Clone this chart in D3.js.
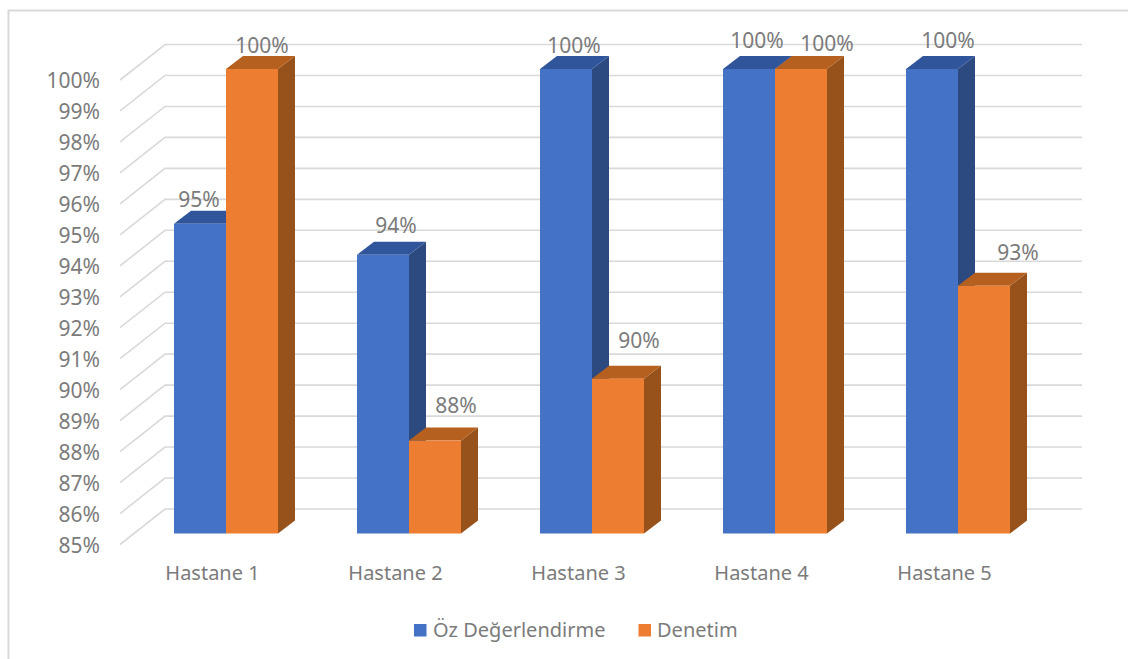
<!DOCTYPE html>
<html lang="tr">
<head>
<meta charset="utf-8">
<script src="https://cdn.jsdelivr.net/npm/d3@7/dist/d3.min.js"></script>
<style>
  html, body { margin: 0; padding: 0; background: #fff; }
  svg { display: block; }
  text { font-family: "Noto Sans", "Open Sans", sans-serif; fill: #7b7b7b; }
</style>
</head>
<body>
<script>
// Chart values
const hospitals = ["Hastane 1", "Hastane 2", "Hastane 3", "Hastane 4", "Hastane 5"];
const selfAssessment = [95, 94, 100, 100, 100];
const audit = [100, 88, 90, 100, 93];
const seriesNames = ["Öz Değerlendirme", "Denetim"];
const percentTicks = d3.range(85, 101);

// Data label nudges from the default spot above each bar: [dx, dy]
const selfLabelNudge = [[-1, -25], [13, -30], [8, -24], [8, -29], [16, -29]];
const auditLabelNudge = [[10, -24], [21, -36], [21, -39], [26, -26], [34, -34]];

const width = 1128, height = 659;
const svg = d3.select("body").append("svg").attr("width", width).attr("height", height);

// Front plane of the bars
const y = d3.scaleLinear().domain([85, 100]).range([533.5, 69]);
const x = d3.scaleBand().domain(hospitals).range([134.5, 1049.5]).paddingInner(0.4317).paddingOuter(0.2158);
const xSeries = d3.scaleBand().domain(seriesNames).range([0, x.bandwidth()]);

// Projection offsets of the 3D box
const barDepth = { dx: 17, dy: -13 };
const wallBack = { left: 165, right: 1082, offset: -24.5 };
const wallFront = { left: 120, offset: 11 };

const palette = {
  [seriesNames[0]]: { front: "#4472c4", side: "#2c4a80", top: "#30559a" },
  [seriesNames[1]]: { front: "#ed7d31", side: "#97521c", top: "#b5601f" }
};

// Outer frame: only the top and left edges are visible
svg.append("path")
  .attr("d", `M${width},10.5H8.5V${height}`)
  .attr("fill", "none").attr("stroke", "#d9d9d9").attr("stroke-width", 2);

// Gridlines on the side wall and the back wall
const grid = svg.append("g").attr("fill", "none").attr("stroke", "#d9d9d9").attr("stroke-width", 1.6);
grid.selectAll("path").data(percentTicks).join("path")
  .attr("d", d => {
    const backY = y(d) + wallBack.offset;
    const frontY = y(d) + wallFront.offset;
    return `M${wallFront.left},${frontY}L${wallBack.left},${backY}H${wallBack.right}`;
  });

// Value axis labels
svg.append("g").selectAll("text").data(percentTicks).join("text")
  .attr("x", 100).attr("y", d => y(d) + wallFront.offset)
  .attr("text-anchor", "end").attr("dominant-baseline", "central")
  .attr("font-size", 21).text(d => d + "%");

// Category labels sit left of the band centre, following the 3D projection
svg.append("g").selectAll("text").data(hospitals).join("text")
  .attr("x", d => x(d) + x.bandwidth() / 2 - 13.5).attr("y", 572)
  .attr("text-anchor", "middle").attr("dominant-baseline", "central")
  .attr("font-size", 20).text(d => d);

// One 3D box per value
function drawBar(group, hospital, seriesName, value) {
  const colors = palette[seriesName];
  const x0 = x(hospital) + xSeries(seriesName), x1 = x0 + xSeries.bandwidth();
  const y0 = y(value), y1 = y(85);
  const { dx, dy } = barDepth;
  group.append("path").attr("fill", colors.side)
    .attr("d", `M${x1},${y0}L${x1 + dx},${y0 + dy}V${y1 + dy}L${x1},${y1}Z`);
  group.append("path").attr("fill", colors.top)
    .attr("d", `M${x0},${y0}L${x0 + dx},${y0 + dy}H${x1 + dx}L${x1},${y0}Z`);
  group.append("rect").attr("fill", colors.front)
    .attr("x", x0).attr("y", y0).attr("width", x1 - x0).attr("height", y1 - y0);
}

const bars = svg.append("g");
hospitals.forEach((h, i) => {
  drawBar(bars, h, seriesNames[0], selfAssessment[i]);
  drawBar(bars, h, seriesNames[1], audit[i]);
});

// Data labels
const labels = svg.append("g").attr("font-size", 21);
function addLabels(seriesName, values, nudges) {
  hospitals.forEach((h, i) => {
    labels.append("text")
      .attr("x", x(h) + xSeries(seriesName) + xSeries.bandwidth() / 2 + nudges[i][0])
      .attr("y", y(values[i]) + nudges[i][1])
      .attr("text-anchor", "middle").attr("dominant-baseline", "central")
      .text(values[i] + "%");
  });
}
addLabels(seriesNames[0], selfAssessment, selfLabelNudge);
addLabels(seriesNames[1], audit, auditLabelNudge);

// Legend
const legendItems = [{ name: seriesNames[0], swatch: 414, text: 433 }, { name: seriesNames[1], swatch: 638.5, text: 657 }];
const legend = svg.append("g");
legend.selectAll("rect").data(legendItems).join("rect")
  .attr("x", d => d.swatch).attr("y", 624).attr("width", 12.5).attr("height", 12.5)
  .attr("fill", d => palette[d.name].front);
legend.selectAll("text").data(legendItems).join("text")
  .attr("x", d => d.text).attr("y", 629)
  .attr("dominant-baseline", "central").attr("font-size", 20).text(d => d.name);
</script>
</body>
</html>
